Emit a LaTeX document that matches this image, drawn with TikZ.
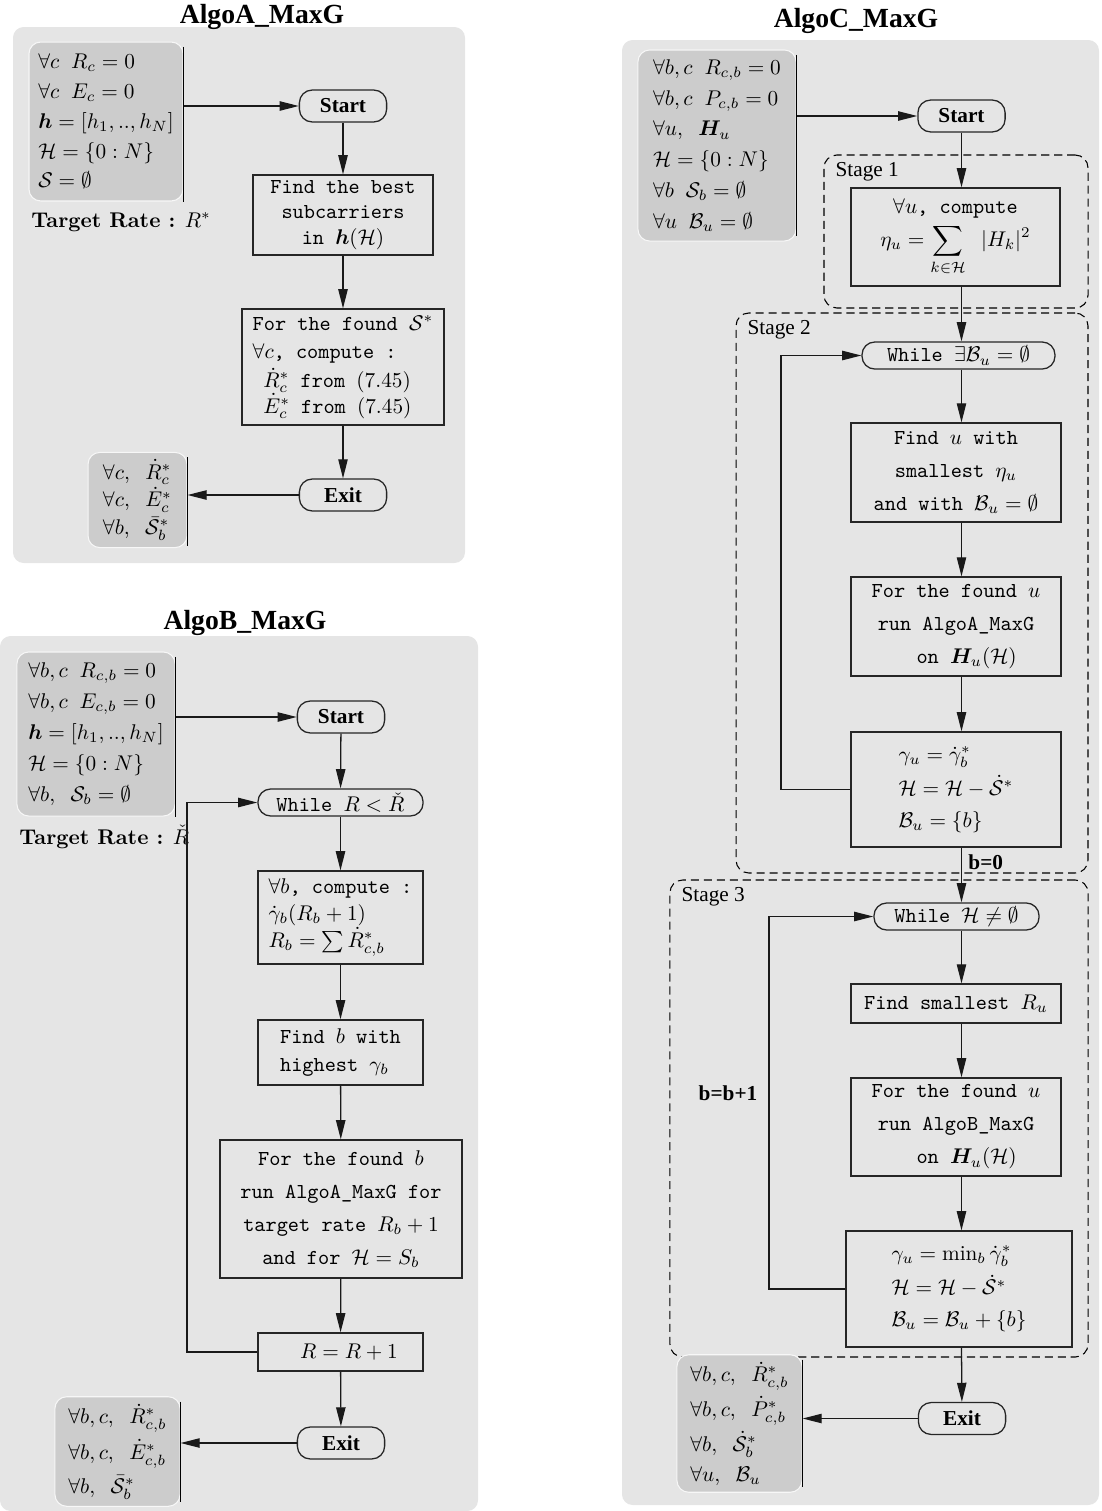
\documentclass[tikz,border=0pt]{standalone}
\usepackage{amsmath,amssymb,amsfonts}
\usepackage{bm}
\usepackage{fontspec}
\newfontfamily\timesfont{Liberation Serif}
\usepackage{tikz}
\usetikzlibrary{arrows.meta,positioning}

\begin{document}
\begin{tikzpicture}[
  x=0.47pt, y=-0.47pt, >={Triangle[length=9pt,width=4.4pt]},
  panel/.style={fill=black!10, rounded corners=5pt},
  initbox/.style={fill=black!20, draw=black!3, line width=0.5pt, rounded corners=5.5pt, align=left, inner xsep=3pt},
  block/.style={draw=black!85, line width=0.6pt, font=\ttfamily, align=center, inner sep=2pt},
  term/.style={draw=black!85, line width=0.6pt, rounded corners=6pt, font=\timesfont\bfseries, minimum width=41pt, minimum height=15pt},
  loopnode/.style={draw=black!85, line width=0.6pt, rounded corners=6pt, font=\ttfamily, minimum height=12.7pt, inner ysep=0.5pt},
  stage/.style={draw=black, dash pattern=on 3.8pt off 2.3pt, rounded corners=6pt, line width=0.5pt},
  stagelabel/.style={font=\timesfont, anchor=north west, inner sep=0pt},
  algotitle/.style={font=\timesfont\bfseries\fontsize{13}{15}\selectfont, anchor=base},
  sideline/.style={line width=0.7pt, black},
  arrow/.style={->, line width=0.6pt, black!90}
]
\useasboundingbox (0,0) rectangle (1101,1511);

% ---------------- AlgoA_MaxG ----------------
\fill[panel] (13,27) rectangle (465,563);
\node[algotitle] (titleA) at (262,23) {AlgoA\_MaxG};

\node[initbox, minimum width=72.4pt, minimum height=74.7pt] (initA) at (106,121.5)
  {$\forall c\;\; R_c = 0$\\[2pt] $\forall c\;\; E_c = 0$\\[2pt] $\bm{h} = [h_1,..,h_N]$\\[2pt] $\mathcal{H} = \{0:N\}$\\[2pt] $\mathcal{S} = \emptyset$};
\draw[sideline] ([yshift=-2.5pt]initA.north east) -- (initA.south east);
\node[anchor=west, inner sep=0pt] (rateA) at (31,222) {\textbf{Target Rate :} $R^*$};

\node[term] (startA) at (343,106) {Start};
\node[block, minimum width=84.6pt, minimum height=37.6pt] (findA) at (343,215)
  {Find the best\\subcarriers\\ in $\bm{h}(\mathcal{H})$};
\node[block, minimum width=94.9pt, minimum height=54.5pt, align=left] (forA) at (343,367)
  {For the found $\mathcal{S}^*$\\[1.5pt] $\forall c$, compute :\\[1.5pt] \hspace*{5pt}$\dot{R}^*_c$ from $(7.45)$\\ \hspace*{5pt}$\dot{E}^*_c$ from $(7.45)$};
\node[term] (exitA) at (343,495) {Exit};
\node[initbox, minimum width=46.5pt, minimum height=44.2pt] (outA) at (137.5,500)
  {$\forall c,\;\; \dot{R}^*_c$\\[1pt] $\forall c,\;\; \dot{E}^*_c$\\[1pt] $\forall b,\;\; \bar{\mathcal{S}}^*_b$};
\draw[sideline] ([yshift=-2.5pt]outA.north east) -- ([yshift=1pt]outA.south east);

\draw[arrow] (initA.east |- startA) -- (startA);
\draw[arrow] (startA) -- (findA);
\draw[arrow] (findA) -- (forA);
\draw[arrow] (forA) -- (exitA);
\draw[arrow] (exitA) -- (outA.east |- exitA);

% ---------------- AlgoB_MaxG ----------------
\fill[panel] (0,636) rectangle (478,1511);
\node[algotitle] (titleB) at (245,629) {AlgoB\_MaxG};

\node[initbox, minimum width=74.3pt, minimum height=77.1pt] (initB) at (96,734)
  {$\forall b,c\;\; R_{c,b} = 0$\\[2.5pt] $\forall b,c\;\; E_{c,b} = 0$\\[2.5pt] $\bm{h} = [h_1,..,h_N]$\\[2.5pt] $\mathcal{H} = \{0:N\}$\\[2.5pt] $\forall b,\;\; \mathcal{S}_b = \emptyset$};
\draw[sideline] ([yshift=-2.5pt]initB.north east) -- (initB.south east);
\node[anchor=west, inner sep=0pt] (rateB) at (19,837) {\textbf{Target Rate :} $\check{R}$};

\node[term] (startB) at (341,717) {Start};
\node[loopnode, minimum width=77.6pt] (whileB) at (340.5,802.5) {While $R < \check{R}$};
\node[block, minimum width=77.6pt, minimum height=43.7pt, align=left] (compB) at (340.5,917.5)
  {$\forall b$, compute :\\[0.5pt] $\dot{\gamma}_b(R_b+1)$\\[0.5pt] $R_b = \sum \dot{R}^*_{c,b}$};
\node[block, minimum width=77.6pt, minimum height=30.6pt, align=left] (findB) at (340.5,1052.5)
  {Find $b$ with\\[1pt] highest $\gamma_b$};
\node[block, minimum width=113.7pt, minimum height=64.9pt] (runB) at (341,1209)
  {For the found $b$\\[3.5pt] run AlgoA\_MaxG for\\[3.5pt] target rate $R_b+1$\\[3.5pt] and for $\mathcal{H} = S_b$};
\node[block, minimum width=77.6pt, minimum height=17.9pt] (incB) at (340.5,1352) {\hspace*{8pt}$R = R+1$};
\node[term] (exitB) at (341,1443) {Exit};
\node[initbox, minimum width=58.8pt, minimum height=48.4pt] (outB) at (117.5,1451.5)
  {$\forall b,c,\;\; \dot{R}^*_{c,b}$\\[2.5pt] $\forall b,c,\;\; \dot{E}^*_{c,b}$\\[2.5pt] $\forall b,\;\; \bar{\mathcal{S}}^*_b$};
\draw[sideline] ([yshift=-2.5pt]outB.north east) -- ([yshift=2.5pt]outB.south east);
\coordinate (loopB) at (187,1000);

\draw[arrow] (initB.east |- startB) -- (startB);
\draw[arrow] (startB) -- (whileB);
\draw[arrow] (whileB) -- (compB);
\draw[arrow] (compB) -- (findB);
\draw[arrow] (findB) -- (runB);
\draw[arrow] (runB) -- (incB);
\draw[arrow] (incB) -- (exitB);
\draw[arrow] (exitB) -- (outB.east |- exitB);
\draw[arrow] (incB.west) -| (loopB) |- (whileB.west);

% ---------------- AlgoC_MaxG ----------------
\fill[panel] (622,40) rectangle (1099,1505);
\node[algotitle] (titleC) at (856,27) {AlgoC\_MaxG};

\node[initbox, minimum width=74.3pt, minimum height=89.8pt] (initC) at (717,145.5)
  {$\forall b,c\;\; R_{c,b} = 0$\\[2.5pt] $\forall b,c\;\; P_{c,b} = 0$\\[2.5pt] $\forall u,\;\; \bm{H}_u$\\[2.5pt] $\mathcal{H} = \{0:N\}$\\[2.5pt] $\forall b\;\; \mathcal{S}_b = \emptyset$\\[2.5pt] $\forall u\;\; \mathcal{B}_u = \emptyset$};
\draw[sideline] ([yshift=-2.5pt]initC.north east) -- ([yshift=2.5pt]initC.south east);
\node[term] (startC) at (961.5,116) {Start};

% stage 1
\node[stage, minimum width=124.1pt, minimum height=71.9pt] (stg1) at (956,231.5) {};
\node[stagelabel] (lab1) at ([xshift=5.5pt,yshift=-3.5pt]stg1.north west) {Stage 1};
\node[block, minimum width=98.2pt, minimum height=46.1pt] (etaC) at (955.5,237)
  {$\forall u$, compute\\[2pt] $\displaystyle \eta_u = \sum_{k\in\mathcal{H}}\;\; |H_k|^2$};

% stage 2
\node[stage, minimum width=165.4pt, minimum height=263.2pt] (stg2) at (912,593) {};
\node[stagelabel] (lab2) at ([xshift=5.5pt,yshift=-3.5pt]stg2.north west) {Stage 2};
\node[loopnode, minimum width=90.7pt] (whileC) at (958.5,355.5) {While $\exists\mathcal{B}_u = \emptyset$};
\node[block, minimum width=98.7pt, minimum height=46.5pt] (findC) at (956,472.5)
  {Find $u$ with\\[3.5pt] smallest $\eta_u$\\[3.5pt] and with $\mathcal{B}_u = \emptyset$};
\node[block, minimum width=98.7pt, minimum height=46.5pt] (runAC) at (956,626.5)
  {For the found $u$\\[3.5pt] run AlgoA\_MaxG\\[3.5pt] \hspace*{10pt}on $\bm{H}_u(\mathcal{H})$};
\node[block, minimum width=98.7pt, minimum height=54.1pt, align=left] (updC) at (956,789.5)
  {$\gamma_u = \dot{\gamma}^*_b$\\[3pt] $\mathcal{H} = \mathcal{H} - \dot{\mathcal{S}}^*$\\[3pt] $\mathcal{B}_u = \{b\}$};
\node[anchor=west, font=\timesfont\bfseries, inner sep=0pt] (bzero) at (968,862) {b=0};
\coordinate (loopC) at (781,600);

% stage 3
\node[stage, minimum width=196.5pt, minimum height=224.2pt] (stg3) at (879,1118.5) {};
\node[stagelabel] (lab3) at ([xshift=5.5pt,yshift=-3.5pt]stg3.north west) {Stage 3};
\node[loopnode, minimum width=77.6pt] (whileD) at (956.5,916.5) {While $\mathcal{H} \neq \emptyset$};
\node[block, minimum width=98.7pt, minimum height=18.3pt] (smallC) at (956,1003.5) {Find smallest $R_u$};
\node[block, minimum width=98.7pt, minimum height=46.1pt] (runBC) at (956,1127)
  {For the found $u$\\[3.5pt] run AlgoB\_MaxG\\[3.5pt] \hspace*{10pt}on $\bm{H}_u(\mathcal{H})$};
\node[block, minimum width=106.2pt, minimum height=54.5pt, align=left] (updD) at (959,1289)
  {$\gamma_u = \min_b \dot{\gamma}^*_b$\\[3pt] $\mathcal{H} = \mathcal{H} - \dot{\mathcal{S}}^*$\\[3pt] $\mathcal{B}_u = \mathcal{B}_u + \{b\}$};
\node[font=\timesfont\bfseries, inner sep=0pt] (bnext) at (728,1093) {b=b+1};
\coordinate (loopD) at (769,1100);

\node[term] (exitC) at (962,1418.5) {Exit};
\node[initbox, minimum width=58.8pt, minimum height=61.6pt] (outC) at (739.5,1423.5)
  {$\forall b,c,\;\; \dot{R}^*_{c,b}$\\[2pt] $\forall b,c,\;\; \dot{P}^*_{c,b}$\\[2pt] $\forall b,\;\; \dot{\mathcal{S}}^*_b$\\[2pt] $\forall u,\;\; \mathcal{B}_u$};
\draw[sideline] ([yshift=-2.5pt]outC.north east) -- ([yshift=2.5pt]outC.south east);

\draw[arrow] (initC.east |- startC) -- (startC);
\draw[arrow] (startC) -- (startC |- etaC.north);
\draw[arrow] (etaC.south -| startC) -- (whileC.north -| startC);
\draw[arrow] (whileC.south -| startC) -- (findC.north -| startC);
\draw[arrow] (findC.south -| startC) -- (runAC.north -| startC);
\draw[arrow] (runAC.south -| startC) -- (updC.north -| startC);
\draw[arrow] (updC.west) -| (loopC) |- (whileC.west);
\draw[arrow] (updC.south -| startC) -- (whileD.north -| startC);
\draw[arrow] (whileD.south -| startC) -- (smallC.north -| startC);
\draw[arrow] (smallC.south -| startC) -- (runBC.north -| startC);
\draw[arrow] (runBC.south -| startC) -- (updD.north -| startC);
\draw[arrow] (updD.west) -| (loopD) |- (whileD.west);
\draw[arrow] (updD.south -| startC) -- (exitC);
\draw[arrow] (exitC) -- (outC.east |- exitC);

\end{tikzpicture}
\end{document}
